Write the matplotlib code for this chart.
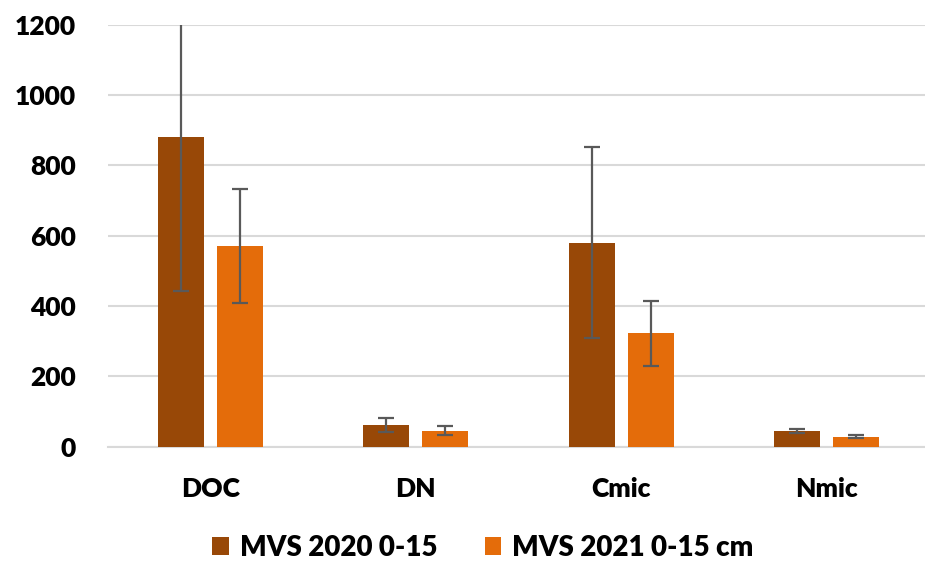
import matplotlib
matplotlib.use("Agg")
import matplotlib.pyplot as plt
import numpy as np

categories = ["DOC", "DN", "Cmic", "Nmic"]
series_names = ["MVS 2020 0-15", "MVS 2021 0-15 cm"]
values_2020 = [880, 62, 580, 45]
errors_2020 = [436, 21, 272, 6]
values_2021 = [570, 46, 322, 29]
errors_2021 = [162, 12, 92, 5]
yticks = [0, 200, 400, 600, 800, 1000, 1200]

colors = ["#984807", "#E46C0A"]

plt.rcParams["font.family"] = ["Lato", "DejaVu Sans"]

fig = plt.figure(figsize=(9.25, 5.63), dpi=100)
ax = fig.add_axes([107.5 / 925, 116.3 / 563, 822 / 925, 422 / 563])

x = np.arange(len(categories))
offset = 0.1437
width = 0.224
err_kw = dict(ecolor="#595959", elinewidth=1.6, capsize=6, capthick=1.6)

ax.bar(x - offset, values_2020, width, color=colors[0], label=series_names[0],
       yerr=errors_2020, error_kw=err_kw, zorder=3)
ax.bar(x + offset, values_2021, width, color=colors[1], label=series_names[1],
       yerr=errors_2021, error_kw=err_kw, zorder=3)

ax.set_xlim(-0.5, len(categories) - 0.5)
ax.set_ylim(0, 1200)
ax.set_yticks(yticks)
ax.set_xticks(x)
ax.set_xticklabels(categories)
ax.yaxis.grid(True, color="#D9D9D9", linewidth=1.5, zorder=0)
ax.set_axisbelow(True)
for side in ["top", "right", "left"]:
    ax.spines[side].set_visible(False)
ax.spines["bottom"].set_color("#D9D9D9")
ax.spines["bottom"].set_linewidth(1.5)
ax.tick_params(axis="both", length=0, labelsize=19)
ax.tick_params(axis="y", pad=23)
ax.tick_params(axis="x", pad=22)
for lab in ax.get_xticklabels() + ax.get_yticklabels():
    lab.set_fontweight("heavy")

fig.legend(loc="center", bbox_to_anchor=(483 / 925, 1 - 548 / 563), ncol=2,
           frameon=False, prop={"size": 20, "weight": "heavy"},
           handlelength=0.6, handleheight=0.6, handletextpad=0.4,
           columnspacing=1.7)

fig.savefig("out.png", dpi=100)
